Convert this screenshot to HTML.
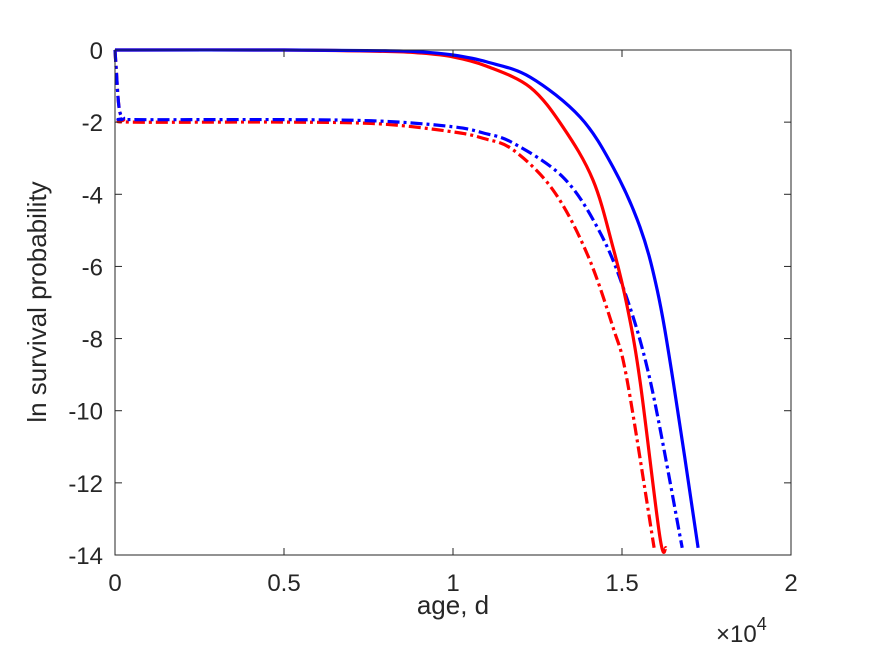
<!DOCTYPE html>
<html><head><meta charset="utf-8"><style>
body{margin:0;background:#fff;}
svg text{font-family:"Liberation Sans",sans-serif;fill:#262626;}
</style></head><body>
<svg id="chart" width="875" height="656" xmlns="http://www.w3.org/2000/svg">
<g id="series"></g>
<g id="axes"></g>
</svg>
<script>
const xTicks=[0,0.5,1,1.5,2];
const xTickLabels=["0","0.5","1","1.5","2"];
const yTicks=[0,-2,-4,-6,-8,-10,-12,-14];
const yTickLabels=["0","-2","-4","-6","-8","-10","-12","-14"];
const blueSolidX=[0,0.5,0.8,0.9,1.0,1.1,1.228,1.376,1.473,1.553,1.604,1.651,1.725];
const blueSolidY=[0,0,-0.02,-0.05,-0.14,-0.33,-0.75,-1.86,-3.24,-4.9,-6.65,-9.15,-13.8];
const redSolidX=[0,0.5,0.8,0.9,1.0,1.1,1.228,1.325,1.414,1.473,1.515,1.553,1.612,1.63];
const redSolidY=[0,0,-0.04,-0.08,-0.19,-0.45,-1.03,-2.13,-3.6,-5.46,-7.1,-9.15,-13.5,-13.8];
const blueDashX=[0,0.004,0.012,0.025,0.05,0.5,0.784,1.0,1.09,1.178,1.325,1.426,1.503,1.583,1.678];
const blueDashY=[0,-0.6,-1.6,-1.88,-1.93,-1.93,-1.97,-2.13,-2.3,-2.58,-3.52,-4.9,-6.57,-9.15,-13.8];
const redDashX=[0,0.004,0.012,0.025,0.05,0.5,0.784,1.0,1.09,1.178,1.296,1.396,1.473,1.515,1.595];
const redDashY=[0,-0.6,-1.6,-1.92,-2.0,-2.0,-2.05,-2.27,-2.45,-2.77,-3.88,-5.63,-7.68,-9.15,-13.8];

const L=115,R=791,T=50,B=555;
const sx=v=>L+(v-0)/(2-0)*(R-L);
const sy=v=>T+(0-v)/(0-(-14))*(B-T);
const NS="http://www.w3.org/2000/svg";
const axes=document.getElementById('axes');
const series=document.getElementById('series');
function mk(tag,attrs,parent){const e=document.createElementNS(NS,tag);for(const k in attrs)e.setAttribute(k,attrs[k]);parent.appendChild(e);return e;}

function line(xs,ys,color,dash,name){
  const P=xs.map((x,i)=>[sx(x),sy(ys[i])]);
  let d='M'+P[0][0].toFixed(1)+','+P[0][1].toFixed(1);
  for(let i=0;i<P.length-1;i++){
    const p0=P[Math.max(i-1,0)],p1=P[i],p2=P[i+1],p3=P[Math.min(i+2,P.length-1)];
    const c1=[p1[0]+(p2[0]-p0[0])/6,p1[1]+(p2[1]-p0[1])/6];
    const c2=[p2[0]-(p3[0]-p1[0])/6,p2[1]-(p3[1]-p1[1])/6];
    d+='C'+c1[0].toFixed(1)+','+c1[1].toFixed(1)+' '+c2[0].toFixed(1)+','+c2[1].toFixed(1)+' '+p2[0].toFixed(1)+','+p2[1].toFixed(1);
  }
  const p=mk('path',{d:d,fill:'none',stroke:color,'stroke-width':3.2,'stroke-linejoin':'round'},series);
  if(dash)p.setAttribute('stroke-dasharray',dash);
  
  
}
line(redDashX,redDashY,'#ff0000','12 4 3 4','red-dashdot-line');
line(blueDashX,blueDashY,'#0000ff','12 4 3 4','blue-dashdot-line');
line(redSolidX,redSolidY,'#ff0000',null,'red-solid-line');
line(blueSolidX,blueSolidY,'#0000ff',null,'blue-solid-line');

const box=mk('rect',{x:L,y:T,width:R-L,height:B-T,fill:'none',stroke:'#262626','stroke-width':1},axes);


xTicks.forEach((v,i)=>{
  const x=sx(v);
  const t=mk('line',{x1:x,x2:x,y1:B,y2:B-7,stroke:'#262626'},axes);
  
  
  mk('line',{x1:x,x2:x,y1:T,y2:T+7,stroke:'#262626'},axes);
  const tx=mk('text',{x:x,y:B+36,'text-anchor':'middle','font-size':24},axes);
  tx.textContent=xTickLabels[i];
  
  
});
yTicks.forEach((v,i)=>{
  const y=sy(v);
  const t=mk('line',{x1:L,x2:L+7,y1:y,y2:y,stroke:'#262626'},axes);
  
  
  mk('line',{x1:R,x2:R-7,y1:y,y2:y,stroke:'#262626'},axes);
  const tx=mk('text',{x:L-12,y:y+9,'text-anchor':'end','font-size':24},axes);
  tx.textContent=yTickLabels[i];
  
  
});
const xl=mk('text',{x:453,y:614,'text-anchor':'middle','font-size':26},axes);
xl.textContent='age, d';


const yl=mk('text',{x:0,y:0,'text-anchor':'middle','font-size':26,transform:'translate(46,302) rotate(-90)'},axes);
yl.textContent='ln survival probability';


const ex=mk('text',{x:716,y:642,'font-size':24},axes);


ex.innerHTML='×10<tspan dy="-12" font-size="18">4</tspan>';
</script>
</body></html>
